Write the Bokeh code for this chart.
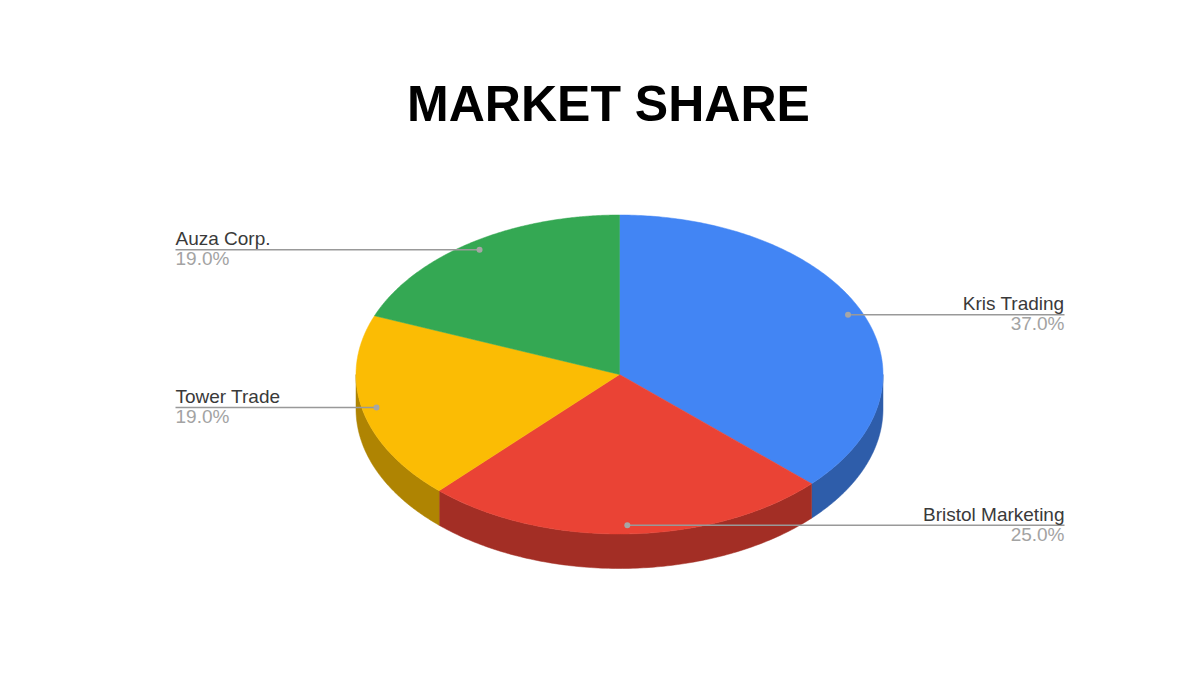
import numpy as np
from bokeh.embed import file_html
from bokeh.models import Range1d
from bokeh.plotting import figure
from bokeh.resources import INLINE
from bokeh.core.properties import value

title_text = "MARKET SHARE"
categories = ["Kris Trading", "Bristol Marketing", "Tower Trade", "Auza Corp."]
shares = [37.0, 25.0, 19.0, 19.0]
top_colors = ["#4285F4", "#EA4335", "#FBBC04", "#34A853"]
side_colors = ["#2E5DAA", "#A32E25", "#AF8402", "#24753A"]

CX, CY, RX, RY, DEPTH = 619.0, 374.0, 263.5, 159.5, 34.5
LEFT_X, RIGHT_X = 175.0, 1064.0
ANCHOR = 0.945

p = figure(width=1184, height=659, output_backend="svg", toolbar_location=None,
           x_range=Range1d(0, 1184), y_range=Range1d(659, 0),
           min_border=0, background_fill_color="white", border_fill_color="white")
p.axis.visible = False
p.grid.visible = False
p.outline_line_color = None


def ex(deg, f=1.0):
    return CX + RX * f * np.sin(np.radians(deg))


def ey(deg, f=1.0):
    return CY - RY * f * np.cos(np.radians(deg))


edges = np.concatenate([[0.0], np.cumsum(shares)]) / sum(shares) * 360.0

# side walls (only the front half of the disc, from 90 to 270 degrees)
for i in range(len(shares)):
    a0, a1 = max(edges[i], 90.0), min(edges[i + 1], 270.0)
    if a1 <= a0:
        continue
    arc = np.linspace(a0, a1, 120)
    xs = np.concatenate([ex(arc), ex(arc[::-1])])
    ys = np.concatenate([ey(arc), ey(arc[::-1]) + DEPTH])
    p.patch(xs, ys, fill_color=side_colors[i], line_color=side_colors[i], line_width=0.5)

# top faces
for i in range(len(shares)):
    arc = np.linspace(edges[i], edges[i + 1], 200)
    xs = np.concatenate([[CX], ex(arc)])
    ys = np.concatenate([[CY], ey(arc)])
    p.patch(xs, ys, fill_color=top_colors[i], line_color=top_colors[i], line_width=0.5)

# leader lines and labels
for i, (name, share) in enumerate(zip(categories, shares)):
    mid = (edges[i] + edges[i + 1]) / 2.0
    ax, ay = float(ex(mid, ANCHOR)), float(ey(mid, ANCHOR))
    right = ax > CX
    tx = RIGHT_X if right else LEFT_X
    align = "right" if right else "left"
    p.line([ax, tx], [ay, ay], line_color="#999999", line_width=1.5)
    p.scatter([ax], [ay], size=6, marker="circle", fill_color="#A6A6A6", line_color=None)
    p.text([tx], [ay - 11], text=[name], text_align=align, text_baseline="alphabetic",
           text_font=value("Liberation Sans"), text_font_size="19px", text_color="#3A3A3A")
    p.text([tx], [ay + 9], text=[f"{share:.1f}%"], text_align=align, text_baseline="alphabetic",
           text_font=value("Liberation Sans"), text_font_size="19px", text_color="#A3A3A3")

p.text([608], [103], text=[title_text], text_align="center", text_baseline="alphabetic",
       text_font=value("Liberation Sans"), text_font_style="bold", text_font_size="50px",
       text_color="#000000")

open("out.html", "w").write(file_html(p, INLINE))
